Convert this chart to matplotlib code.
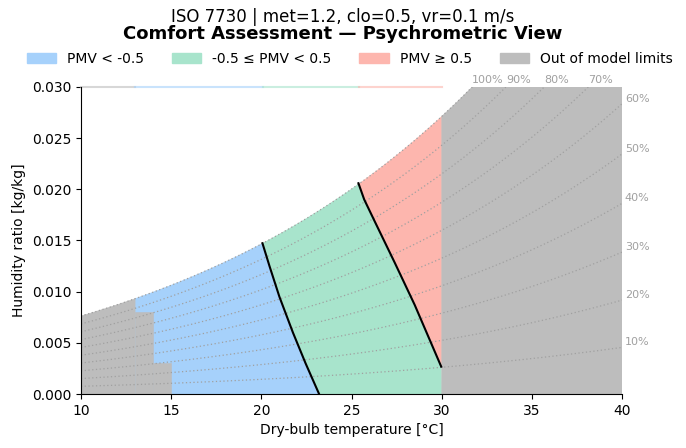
import numpy as np
import matplotlib
matplotlib.use("Agg")
import matplotlib.pyplot as plt
from matplotlib.patches import Patch, Polygon

# chart values
rh_levels = [0.1, 0.2, 0.3, 0.4, 0.5, 0.6, 0.7, 0.8, 0.9, 1.0]
t_min, t_max = 10, 40
w_max = 0.03
t_model_max = 30

# PMV = -0.5 and PMV = +0.5 boundaries (temperature, humidity ratio)
pmv_lo_t = [20.06, 20.45, 21.0, 21.75, 22.45, 23.2]
pmv_lo_w = [0.01473, 0.0125, 0.0095, 0.0060, 0.0030, 0.0]
pmv_hi_t = [25.38, 25.7, 26.3, 27.4, 28.5, 29.97]
pmv_hi_w = [0.02059, 0.0190, 0.0168, 0.0128, 0.0087, 0.00267]

# stepped lower-left out-of-limits block: (t_start, t_end, w_top); None = up to saturation
left_steps_t = [10, 13, 14, 15]
left_steps_w = [None, 0.0080, 0.0030]

# faint top-edge strip
top_strip_t = [10, 13, 20.1, 25.4, 30]

c_cold = "#a6d1fb"
c_ok = "#a8e4cc"
c_warm = "#fdb6ae"
c_out = "#bdbdbd"
top_strip_c = [c_out, c_cold, c_ok, c_warm]

P = 101325.0


def p_ws(t):
    t = np.asarray(t, dtype=float)
    return 611.2 * np.exp(17.62 * t / (243.12 + t))


def w_of(t, rh):
    pv = rh * p_ws(t)
    return 0.621945 * pv / (P - pv)


def sat_seg(t0, t1, n=200):
    t = np.linspace(t0, t1, n)
    return list(zip(t, w_of(t, 1.0)))


def patch(pts, c, z=1):
    ax.add_patch(Polygon(pts, closed=True, facecolor=c, edgecolor=c, lw=0.4, zorder=z))


fig = plt.figure(figsize=(6.86, 4.48), dpi=100)
ax = fig.add_axes([0.118, 0.1205, 0.789, 0.6855])

lo = list(zip(pmv_lo_t, pmv_lo_w))
hi = list(zip(pmv_hi_t, pmv_hi_w))

# cold region
patch([(13, 0)] + lo[::-1] + sat_seg(pmv_lo_t[0], 13), c_cold)
# neutral region
patch([(pmv_lo_t[-1], 0), (t_model_max, 0)] + hi[::-1]
      + sat_seg(pmv_hi_t[0], pmv_lo_t[0]) + lo, c_ok)
# warm region
patch([(t_model_max, pmv_hi_w[-1])] + sat_seg(t_model_max, pmv_hi_t[0]) + hi, c_warm)

# out of model limits: right block
tr = np.linspace(t_model_max, t_max, 300)
patch([(t_max, 0), (t_model_max, 0)] + list(zip(tr, np.minimum(w_of(tr, 1.0), w_max))), c_out)

# out of model limits: left stepped block
for i, wt in enumerate(left_steps_w):
    t0, t1 = left_steps_t[i], left_steps_t[i + 1]
    if wt is None:
        pts = [(t1, 0), (t0, 0)] + sat_seg(t0, t1, 50)
    else:
        pts = [(t0, 0), (t1, 0), (t1, wt), (t0, wt)]
    patch(pts, c_out, 1.5)

# relative humidity lines
tg = np.linspace(t_min, t_max, 400)
for rh in rh_levels:
    wg = w_of(tg, rh)
    ax.plot(tg, wg, color="#a0a0a0", lw=0.9, ls=(0, (1, 2)), zorder=2)
    lab = f"{int(round(rh * 100))}%"
    if wg[-1] <= w_max:
        ax.text(t_max + 0.15, wg[-1], lab, color="#a0a0a0", fontsize=8,
                ha="left", va="bottom", clip_on=False)
    else:
        tc = np.interp(w_max, wg, tg)
        ax.text(tc, w_max + 0.0002, lab, color="#a0a0a0", fontsize=8,
                ha="left", va="bottom", clip_on=False)

# PMV boundaries
ax.plot(pmv_lo_t, pmv_lo_w, color="black", lw=1.5, zorder=3)
ax.plot(pmv_hi_t, pmv_hi_w, color="black", lw=1.5, zorder=3)

# faint strip along the top edge
for i, c in enumerate(top_strip_c):
    ax.plot([top_strip_t[i], top_strip_t[i + 1]], [w_max, w_max], color=c,
            alpha=0.6, lw=1.5, zorder=2, clip_on=False)

ax.set_xlim(t_min, t_max)
ax.set_ylim(0, w_max)
ax.set_xticks([10, 15, 20, 25, 30, 35, 40])
ax.set_yticks([0, 0.005, 0.01, 0.015, 0.02, 0.025, 0.03])
ax.yaxis.set_major_formatter(matplotlib.ticker.FormatStrFormatter("%.3f"))
ax.spines["top"].set_visible(False)
ax.spines["right"].set_visible(False)
ax.set_xlabel("Dry-bulb temperature [°C]")
ax.set_ylabel("Humidity ratio [kg/kg]")

handles = [Patch(color=c_cold, label="PMV < -0.5"),
           Patch(color=c_ok, label="-0.5 ≤ PMV < 0.5"),
           Patch(color=c_warm, label="PMV ≥ 0.5"),
           Patch(color=c_out, label="Out of model limits")]
fig.legend(handles=handles, loc="center", bbox_to_anchor=(0.51, 0.868), ncol=4,
           frameon=False, fontsize=10, handlelength=2.1, columnspacing=2.0)

fig.text(0.5, 0.962, "ISO 7730 | met=1.2, clo=0.5, vr=0.1 m/s", ha="center",
         va="center", fontsize=12)
fig.text(0.5, 0.924, "Comfort Assessment — Psychrometric View", ha="center",
         va="center", fontsize=13, fontweight="bold")

fig.savefig("out.png", dpi=100)
